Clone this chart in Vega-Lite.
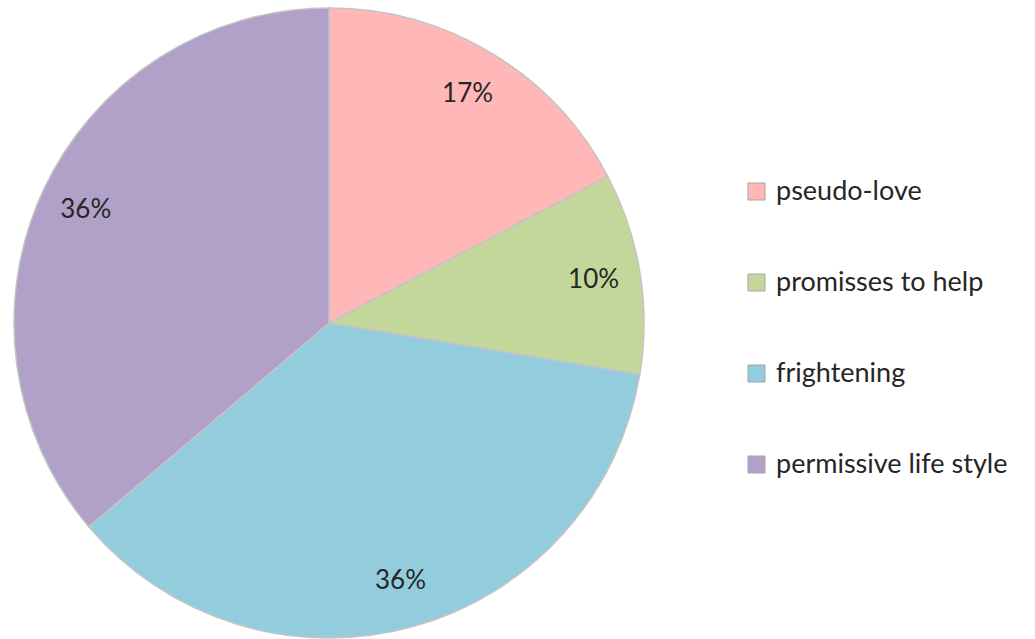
{
  "$schema": "https://vega.github.io/schema/vega-lite/v6.json",
  "autosize": {"type": "none"},
  "width": 658,
  "height": 646,
  "padding": {"left": 0, "top": 0, "right": 377, "bottom": 0},
  "background": "white",
  "config": {"view": {"stroke": null}, "font": "Lato"},
  "data": {
    "values": [
      {"category": "pseudo-love", "value": 17.3, "label": "17%", "ord": 1},
      {"category": "promisses to help", "value": 10.3, "label": "10%", "ord": 2},
      {"category": "frightening", "value": 36.2, "label": "36%", "ord": 3},
      {"category": "permissive life style", "value": 36.2, "label": "36%", "ord": 4}
    ]
  },
  "encoding": {
    "theta": {"field": "value", "type": "quantitative", "stack": true},
    "order": {"field": "ord", "type": "quantitative"}
  },
  "layer": [
    {
      "mark": {"type": "arc", "outerRadius": 315, "stroke": "#c4c4c4", "strokeWidth": 1.5},
      "encoding": {
        "color": {
          "field": "category",
          "type": "nominal",
          "scale": {
            "domain": ["pseudo-love", "promisses to help", "frightening", "permissive life style"],
            "range": ["#FFB7B7", "#C4D79B", "#93CDDD", "#B1A0C7"]
          },
          "legend": {
            "title": null,
            "orient": "none",
            "legendX": 743,
            "legendY": 178,
            "symbolType": "square",
            "symbolSize": 289,
            "symbolStrokeColor": "#a6a6a6",
            "symbolStrokeWidth": 1,
            "symbolOpacity": 1,
            "labelFontSize": 27,
            "labelFont": "Lato",
            "labelColor": "#262626",
            "labelOffset": 6,
            "rowPadding": 63,
            "labelLimit": 400
          }
        }
      }
    },
    {
      "mark": {"type": "text", "radius": 268, "fontSize": 26, "font": "Lato", "color": "#262626"},
      "encoding": {
        "text": {"field": "label", "type": "nominal"}
      }
    }
  ]
}
